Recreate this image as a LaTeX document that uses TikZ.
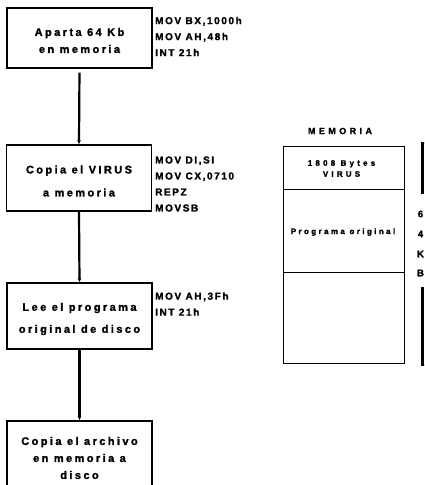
\documentclass[tikz,border=0pt]{standalone}
\usepackage{fontspec}
\setmainfont{Liberation Sans}[BoldFeatures={FakeBold=1.6}]
\usetikzlibrary{arrows.meta}
\tikzset{
  stepbox/.style={draw, line width=1.3pt, minimum width=145pt, inner sep=0pt},
  steptext/.style={align=center, inner sep=0pt,
    font=\fontsize{11}{13}\selectfont\bfseries\addfontfeatures{LetterSpace=22}},
  code/.style={anchor=west, align=left, inner sep=0pt,
    font=\fontsize{10}{16}\selectfont\bfseries\addfontfeatures{LetterSpace=16}},
  flow/.style={line width=2.2pt, -{Latex[length=4pt,width=4pt]}},
  memtext/.style={inner sep=0pt, align=center,
    font=\fontsize{8}{11}\selectfont\bfseries\addfontfeatures{LetterSpace=30}},
  kbtext/.style={inner sep=0pt, font=\fontsize{9.5}{10}\selectfont\bfseries},
  memline/.style={line width=1pt},
  bracket/.style={line width=2.6pt}
}
\begin{document}
\begin{tikzpicture}[x=1pt,y=-1pt]
\useasboundingbox (0,0) rectangle (424,485);
\clip (0,0) rectangle (424,485);

% flow of steps
\node[stepbox, minimum height=60pt] (s1) at (79.5,38) {};
\node[stepbox, minimum height=66pt] (s2) at (79,178) {};
\node[stepbox, minimum height=66pt] (s3) at (79.5,316) {};
\node[stepbox, minimum height=72pt] (s4) at (79.5,457) {};
\node[steptext] (t1) at ([yshift=-2.5pt]s1.center) {Aparta 64 Kb\\[4pt]en memoria};
\node[steptext] (t2) at ([yshift=-3pt]s2.center) {Copia el VIRUS\\[10pt]a memoria};
\node[steptext] (t3) at ([yshift=-3pt]s3.center) {Lee el programa\\[9pt]original de disco};
\node[steptext] (t4) at ([yshift=-1pt]s4.center) {Copia el archivo\\[4pt]en memoria a\\[4pt]disco};

\draw[flow, shorten <=4pt] (s1.south) -- (s2.north);
\draw[flow] (s2.south) -- (s3.north);
\draw[flow] (s3.south) -- (s4.north);

% instructions beside each step
\node[code] (c1) at (155,36.5) {MOV BX,1000h\\MOV AH,48h\\INT 21h};
\node[code] (c2) at (155,184) {MOV DI,SI\\MOV CX,0710\\REPZ\\MOVSB};
\node[code] (c3) at (155,304) {MOV AH,3Fh\\INT 21h};

% memory map
\node[memtext, font=\fontsize{9}{10}\selectfont\bfseries\addfontfeatures{LetterSpace=38}] (mt) at (340,131) {MEMORIA};
\node[draw, memline, minimum width=121pt, minimum height=217pt, inner sep=0pt] (mem) at (343.5,254.5) {};
\coordinate (d1w) at (283,189);
\coordinate (d1e) at (404,189);
\coordinate (d2w) at (283,272);
\coordinate (d2e) at (404,272);
\draw[memline] (d1w) -- (d1e);
\draw[memline] (d2w) -- (d2e);
\node[memtext, font=\fontsize{8}{11}\selectfont\bfseries\addfontfeatures{LetterSpace=40}] (vir) at (341.5,168.5) {1808 Bytes\\VIRUS};
\node[memtext] (prog) at (343,232) {Programa original};

% 64 KB span
\coordinate (b1t) at (422.5,143);
\coordinate (b1b) at (422.5,194);
\coordinate (b2t) at (422.5,287);
\coordinate (b2b) at (422.5,365);
\draw[bracket] ([xshift=6pt]b1t) -- (b1t) -- (b1b);
\draw[bracket] (b2t) -- (b2b) -- ([xshift=6pt]b2b);
\node[kbtext] (k1) at (420.5,214) {6};
\node[kbtext] (k2) at (420.5,234) {4};
\node[kbtext] (k3) at (420.5,254) {K};
\node[kbtext] (k4) at (420.5,273) {B};
\end{tikzpicture}
\end{document}
